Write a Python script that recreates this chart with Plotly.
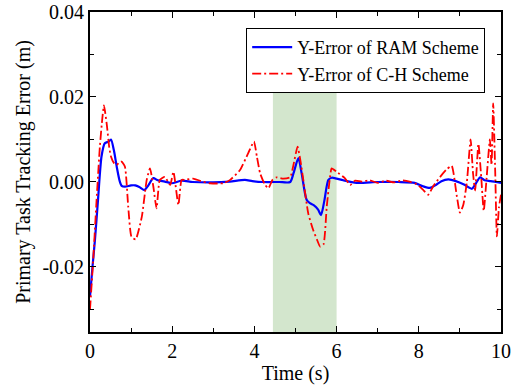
import plotly.graph_objects as go

# ---- data ----
t_ram = [0, 0.06, 0.12, 0.2, 0.28, 0.36, 0.45, 0.51, 0.58, 0.65, 0.72, 0.77, 0.85, 1.0, 1.1, 1.2, 1.32,
         1.42, 1.54, 1.65, 1.82, 1.99, 2.23, 2.5, 3.0, 3.4, 3.77, 3.95, 4.2, 4.6, 4.87, 4.95, 5.07, 5.15,
         5.27, 5.35, 5.45, 5.55, 5.62, 5.70, 5.80, 5.88, 6.0, 6.16, 6.49, 7.0, 7.5, 7.9, 8.1, 8.27, 8.4,
         8.55, 8.72, 8.9, 9.1, 9.29, 9.38, 9.49, 9.6, 9.75, 10.0]
y_ram = [-0.027, -0.020, -0.0137, -0.0035, 0.006, 0.0091, 0.0095, 0.0100, 0.0075, 0.0036, 0.0003, -0.0009,
         -0.0011, -0.0008, -0.0008, -0.0012, -0.0019, -0.0008, 0.0009, 0.0004, 0.0001, -0.0003, 0.0003, 0.0,
         -0.0001, 0.0001, 0.0005, 0.0002, 0.0, 0.0, 0.0, 0.002, 0.0056, 0.002, -0.0042, -0.0050, -0.0055,
         -0.0065, -0.0078, -0.0045, 0.0005, 0.0010, 0.0008, 0.0004, -0.0002, 0.0, 0.0, -0.0002, -0.001,
         -0.0014, -0.0008, 0.0002, 0.0006, 0.0002, -0.0006, -0.0016, -0.0005, 0.0011, 0.0004, 0.0002, -0.0002]

t_ch = [0, 0.08, 0.16, 0.24, 0.3, 0.34, 0.41, 0.47, 0.51, 0.58, 0.65, 0.72, 0.77, 0.85, 0.93, 1.01, 1.11,
        1.26, 1.38, 1.46, 1.54, 1.62, 1.70, 1.82, 1.95, 2.03, 2.15, 2.23, 2.31, 2.51, 2.7, 2.92, 3.24, 3.41,
        3.65, 3.85, 3.99, 4.06, 4.14, 4.25, 4.34, 4.44, 4.54, 4.7, 4.87, 4.95, 5.05, 5.12, 5.19, 5.31, 5.43,
        5.52, 5.60, 5.68, 5.76, 5.84, 5.88, 6.0, 6.2, 6.33, 6.45, 6.61, 6.8, 7.0, 7.2, 7.4, 7.6, 7.8, 7.95,
        8.11, 8.23, 8.35, 8.52, 8.68, 8.8, 8.92, 9.0, 9.08, 9.17, 9.26, 9.32, 9.37, 9.45, 9.52, 9.58, 9.65,
        9.73, 9.77, 9.81, 9.86, 9.9, 9.95, 10.0]
y_ch = [-0.030, -0.018, -0.0042, 0.0083, 0.015, 0.0180, 0.0134, 0.008, 0.0060, 0.0045, 0.0040, 0.0047,
        0.0048, 0.0036, -0.0058, -0.0129, -0.0135, -0.0082, 0.0005, 0.0032, -0.001, -0.0062, 0.0005, 0.0012,
        -0.0007, 0.0024, -0.0054, 0.0005, 0.0005, 0.0008, 0.0002, -0.0003, -0.0003, 0.0005, 0.0028, 0.0068,
        0.0095, 0.0060, 0.0020, -0.0005, -0.0015, 0.0005, 0.0011, 0.0008, 0.0011, 0.004, 0.0083, 0.005,
        0.0005, -0.0074, -0.0113, -0.0135, -0.0152, -0.0147, -0.0058, 0.0012, 0.0032, 0.0024, 0.0009,
        -0.0007, 0.0003, 0.0001, 0.0004, -0.0002, 0.0003, -0.0001, 0.0004, 0.0, -0.0005, -0.0019, -0.003,
        -0.001, 0.0012, 0.003, 0.0038, -0.003, -0.0072, -0.0055, 0.0, 0.0100, 0.002, -0.002, 0.009, 0.001,
        -0.0068, 0.001, 0.0100, 0.004, 0.0185, 0.002, -0.0128, -0.006, -0.003]

names = ["Y-Error of RAM Scheme", "Y-Error of C-H Scheme"]
shade_x = [4.45, 6.0]
shade_top = 0.0214
x_range = [0, 10]
y_range = [-0.0353, 0.04]
x_ticks = [0, 2, 4, 6, 8, 10]
y_ticks = [-0.02, 0.0, 0.02, 0.04]
y_ticklabels = ["-0.02", "0.00", "0.02", "0.04"]

FONT = "Liberation Serif"

fig = go.Figure()
fig.add_shape(type="rect", xref="x", yref="y", x0=shade_x[0], x1=shade_x[1],
              y0=y_range[0], y1=shade_top, fillcolor="#d3e6cd", line_width=0, layer="below")
fig.add_trace(go.Scatter(x=t_ram, y=y_ram, mode="lines", name=names[0],
                         line=dict(color="#0000ff", width=2.2, shape="spline", smoothing=0.7)))
fig.add_trace(go.Scatter(x=t_ch, y=y_ch, mode="lines", name=names[1],
                         line=dict(color="#ff0000", width=1.8, dash="9px,3px,2px,3px",
                                   shape="spline", smoothing=0.5)))

axis_common = dict(showline=True, linecolor="black", linewidth=1.8, mirror="ticks",
                   ticks="inside", ticklen=6, tickcolor="black", tickwidth=1.2,
                   showgrid=False, zeroline=False, automargin=False,
                   tickfont=dict(family=FONT, size=20, color="black"))
fig.update_xaxes(range=x_range, tickvals=x_ticks, **axis_common,
                 minor=dict(ticks="inside", dtick=1, ticklen=4, tickcolor="black", tickwidth=1),
                 title=dict(text="Time (s)", font=dict(family=FONT, size=20, color="black"), standoff=5))
fig.update_yaxes(range=y_range, tickvals=y_ticks, ticktext=y_ticklabels, **axis_common,
                 minor=dict(ticks="inside", tickvals=[-0.03, -0.01, 0.01, 0.03], ticklen=4,
                            tickcolor="black", tickwidth=1),
                 title=dict(text="Primary Task Tracking Error (m)",
                            font=dict(family=FONT, size=20, color="black"), standoff=6))
fig.update_layout(
    width=512, height=386,
    margin=dict(l=90, r=11, t=12, b=54),
    plot_bgcolor="white", paper_bgcolor="white",
    legend=dict(x=0.38, y=0.95, xanchor="left", yanchor="top",
                bgcolor="white", bordercolor="black", borderwidth=1,
                font=dict(family=FONT, size=18, color="black"),
                tracegroupgap=0, itemwidth=40),
    showlegend=True,
)
fig.write_html("out.html")
